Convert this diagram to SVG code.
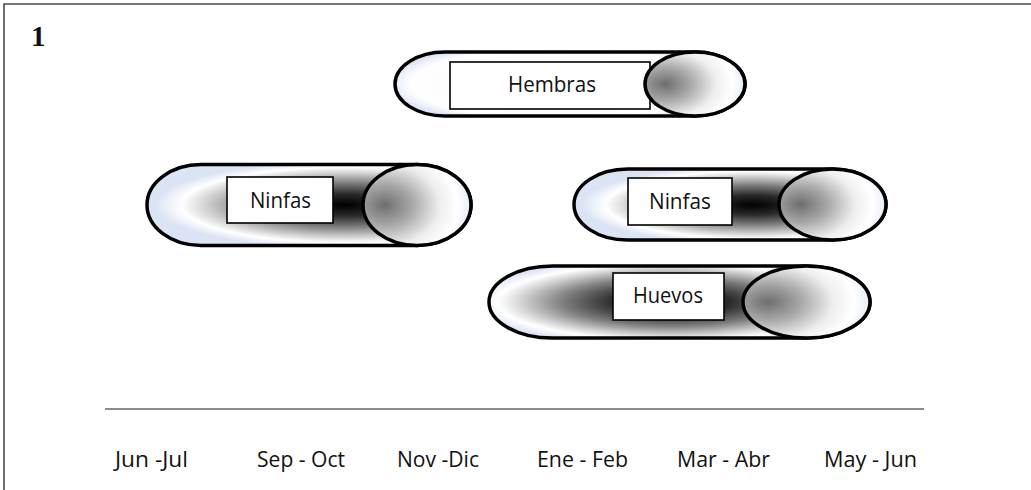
<svg xmlns="http://www.w3.org/2000/svg" width="1031" height="490" viewBox="0 0 1031 490">
  <style>
    .frame { stroke: #4a4a4a; stroke-width: 1.6; fill: none; }
    .body { stroke: #000; stroke-width: 3.5; }
    .cap { stroke: #000; stroke-width: 3.5; fill: url(#capShade); }
    .box { fill: #fff; stroke: #000; stroke-width: 1.6; }
    .lbl { font-family: "Open Sans", "Liberation Sans", sans-serif; font-size: 21px; fill: #111; }
    .axis { stroke: #666; stroke-width: 1.6; }
    .num { font-family: "Liberation Serif", serif; font-weight: bold; font-size: 29px; fill: #111; }
  </style>
  <defs>
    <!-- shading of the end cap: grey on the inner side, fading to pale blue -->
    <radialGradient id="capShade" cx="0.2" cy="0.5" r="0.85" fx="0.2" fy="0.5">
      <stop offset="0" stop-color="#6e6e6e"/>
      <stop offset="0.3" stop-color="#a8a8a8"/>
      <stop offset="0.6" stop-color="#eeeeee"/>
      <stop offset="0.8" stop-color="#ffffff"/>
      <stop offset="1" stop-color="#dbe4f4"/>
    </radialGradient>
    <!-- dark core of the tube bodies -->
    <radialGradient id="bodyDark1" gradientUnits="userSpaceOnUse" cx="345" cy="205" r="190" gradientTransform="translate(345 205) scale(1 0.23) translate(-345 -205)">
      <stop offset="0" stop-color="#000"/>
      <stop offset="0.25" stop-color="#2a2a2a"/>
      <stop offset="0.5" stop-color="#7c7c7c"/>
      <stop offset="0.72" stop-color="#cdcdcd"/>
      <stop offset="0.86" stop-color="#fff"/>
      <stop offset="1" stop-color="#dbe4f4"/>
    </radialGradient>
    <radialGradient id="bodyDark2" gradientUnits="userSpaceOnUse" cx="752" cy="205" r="170" gradientTransform="translate(752 205) scale(1 0.23) translate(-752 -205)">
      <stop offset="0" stop-color="#000"/>
      <stop offset="0.25" stop-color="#2a2a2a"/>
      <stop offset="0.5" stop-color="#7c7c7c"/>
      <stop offset="0.72" stop-color="#cdcdcd"/>
      <stop offset="0.86" stop-color="#fff"/>
      <stop offset="1" stop-color="#dbe4f4"/>
    </radialGradient>
    <radialGradient id="bodyDark3" gradientUnits="userSpaceOnUse" cx="672" cy="302" r="200" gradientTransform="translate(672 302) scale(1 0.22) translate(-672 -302)">
      <stop offset="0" stop-color="#000"/>
      <stop offset="0.3" stop-color="#2e2e2e"/>
      <stop offset="0.55" stop-color="#808080"/>
      <stop offset="0.75" stop-color="#d2d2d2"/>
      <stop offset="0.87" stop-color="#fff"/>
      <stop offset="1" stop-color="#dbe4f4"/>
    </radialGradient>
    <radialGradient id="bodyLight" gradientUnits="userSpaceOnUse" cx="560" cy="84" r="175" gradientTransform="translate(560 84) scale(1 0.24) translate(-560 -84)">
      <stop offset="0" stop-color="#d8d8d8"/>
      <stop offset="0.55" stop-color="#fbfbfb"/>
      <stop offset="0.85" stop-color="#fff"/>
      <stop offset="1" stop-color="#dbe4f4"/>
    </radialGradient>
  </defs>

  <rect width="1031" height="490" fill="#fff"/>

  <!-- panel frame (top and left edges) -->
  <path class="frame" d="M4 490 V4 H1031"/>
  <text class="num" x="31" y="46">1</text>

  <!-- Hembras -->
  <g id="node-hembras">
    <path class="body" fill="url(#bodyLight)" d="M445 52 H695 A50 32 0 0 1 695 116 H445 A50 32 0 0 1 445 52 Z"/>
    <rect class="box" x="450" y="62" width="200" height="47"/>
    <ellipse class="cap" cx="695" cy="84" rx="50" ry="32"/>
    <text class="lbl" x="508" y="92" textLength="88" lengthAdjust="spacingAndGlyphs">Hembras</text>
  </g>

  <!-- Ninfas (first period) -->
  <g id="node-ninfas-1">
    <path class="body" fill="url(#bodyDark1)" d="M201 164.5 H417 A54 40.5 0 0 1 417 245.5 H201 A54 40.5 0 0 1 201 164.5 Z"/>
    <rect class="box" x="227" y="177" width="106" height="46"/>
    <ellipse class="cap" cx="417" cy="205" rx="54" ry="40.5"/>
    <text class="lbl" x="250" y="208" textLength="61" lengthAdjust="spacingAndGlyphs">Ninfas</text>
  </g>

  <!-- Ninfas (second period) -->
  <g id="node-ninfas-2">
    <path class="body" fill="url(#bodyDark2)" d="M627.5 169 H832.5 A53.5 35.5 0 0 1 832.5 240 H627.5 A53.5 35.5 0 0 1 627.5 169 Z"/>
    <rect class="box" x="628" y="178" width="104" height="47"/>
    <ellipse class="cap" cx="832.5" cy="204.5" rx="53.5" ry="35.5"/>
    <text class="lbl" x="649" y="209" textLength="62" lengthAdjust="spacingAndGlyphs">Ninfas</text>
  </g>

  <!-- Huevos -->
  <g id="node-huevos">
    <path class="body" fill="url(#bodyDark3)" d="M552.5 266 H806.5 A63.5 36 0 0 1 806.5 338 H552.5 A63.5 36 0 0 1 552.5 266 Z"/>
    <rect class="box" x="613" y="273" width="111" height="47"/>
    <ellipse class="cap" cx="806.5" cy="302" rx="63.5" ry="36"/>
    <text class="lbl" x="633" y="303" textLength="70" lengthAdjust="spacingAndGlyphs">Huevos</text>
  </g>

  <!-- time axis -->
  <g id="axis">
    <line class="axis" x1="105" y1="409" x2="924" y2="409"/>
    <text class="lbl" x="115" y="467" textLength="73" lengthAdjust="spacingAndGlyphs">Jun -Jul</text>
    <text class="lbl" x="257" y="467" textLength="88" lengthAdjust="spacingAndGlyphs">Sep - Oct</text>
    <text class="lbl" x="397" y="467" textLength="82" lengthAdjust="spacingAndGlyphs">Nov -Dic</text>
    <text class="lbl" x="537" y="467" textLength="91" lengthAdjust="spacingAndGlyphs">Ene - Feb</text>
    <text class="lbl" x="677" y="467" textLength="93" lengthAdjust="spacingAndGlyphs">Mar - Abr</text>
    <text class="lbl" x="824" y="467" textLength="93" lengthAdjust="spacingAndGlyphs">May - Jun</text>
  </g>
</svg>
